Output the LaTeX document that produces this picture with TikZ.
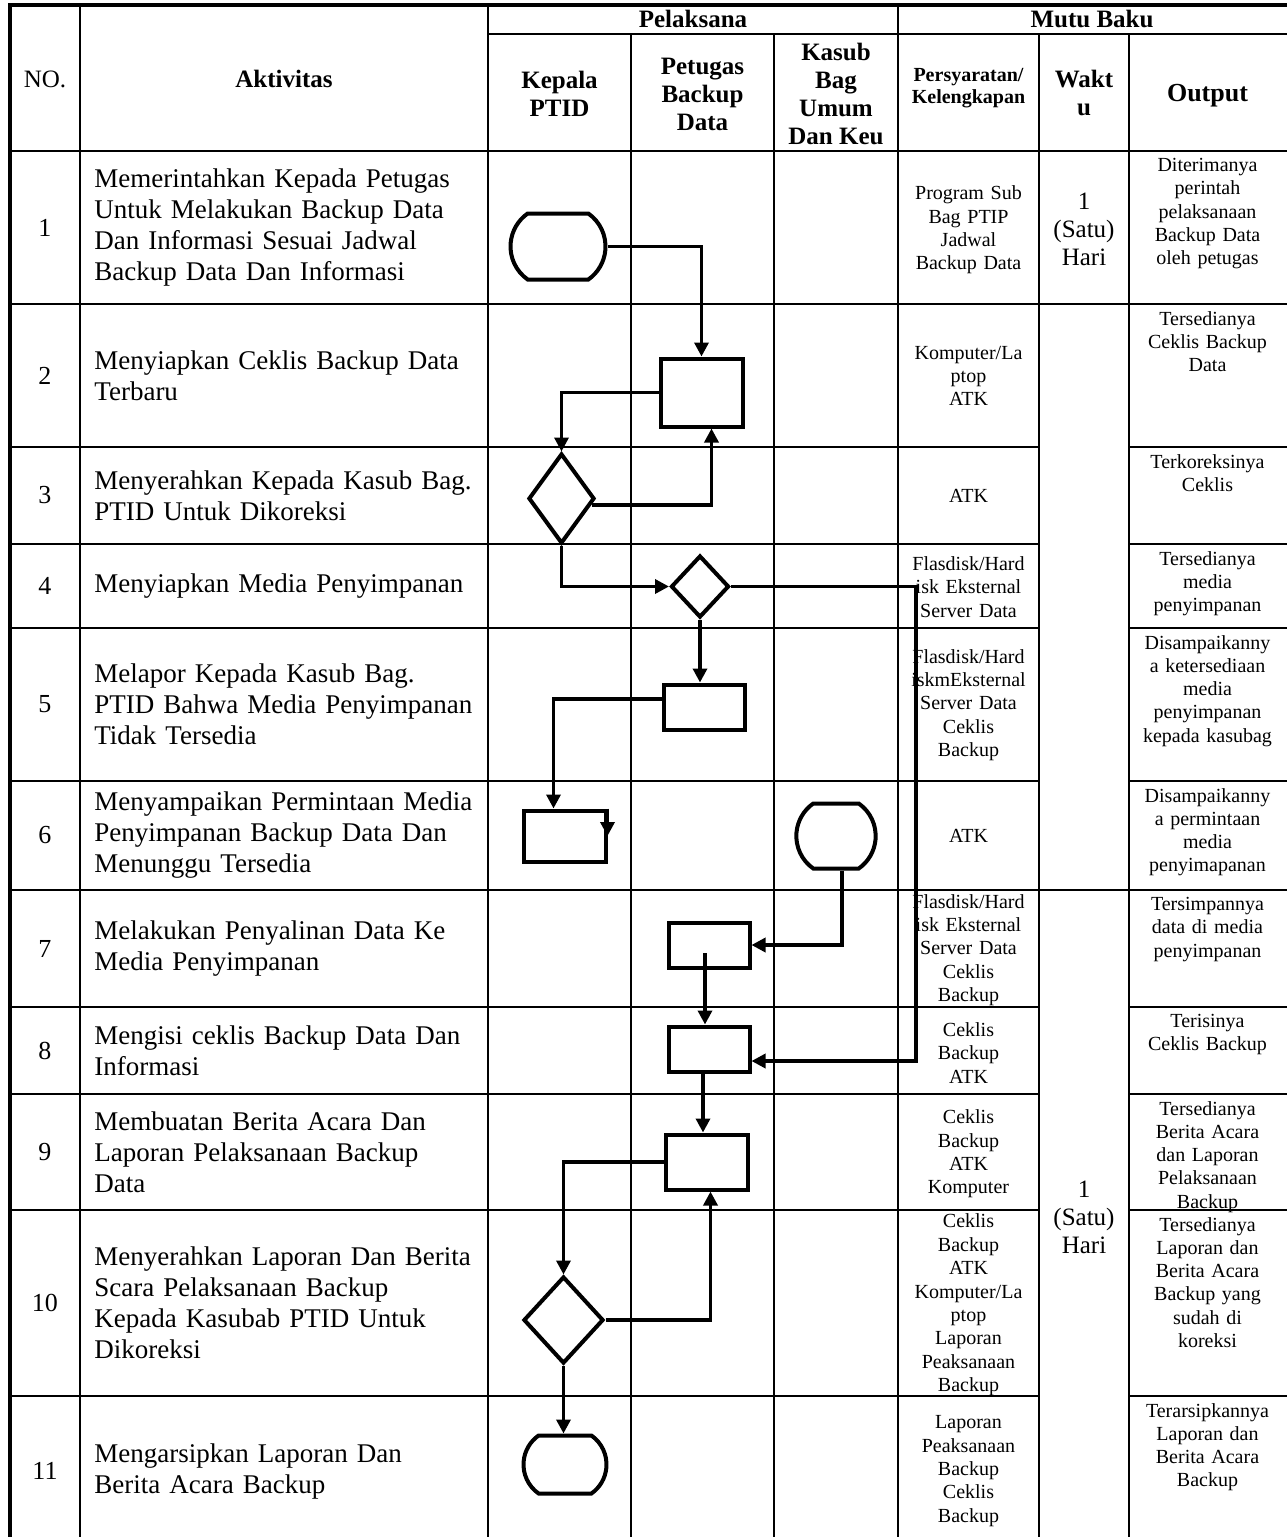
\documentclass[tikz,border=0pt]{standalone}
\usepackage{fontspec}
\setmainfont{Liberation Serif}
\usepackage{tikz}
\usetikzlibrary{arrows.meta,positioning,calc,shapes.geometric,shapes.misc}
\tikzset{
  tabline/.style={draw=black,line width=1.2pt},
  tabedge/.style={draw=black,line width=1.6pt},
  headtext/.style={
    inner sep=0pt,align=center,
    font=\fontsize{12.5}{14}\selectfont\bfseries
  },
  numtext/.style={inner sep=0pt,font=\fontsize{13}{15}\selectfont},
  akttext/.style={
    anchor=west,inner sep=0pt,text width=240pt,align=left,
    font=\fontsize{13.5}{15.5}\selectfont
  },
  syarattext/.style={
    inner sep=0pt,text width=70pt,align=center,
    font=\fontsize{10}{11.7}\selectfont
  },
  outtext/.style={
    anchor=north,inner sep=0pt,text width=78pt,align=center,
    font=\fontsize{10}{11.6}\selectfont
  },
  waktutext/.style={inner sep=0pt,align=center,font=\fontsize{12.5}{14}\selectfont},
  startbox/.style={
    rounded rectangle,rounded rectangle arc length=110,
    draw=black,fill=white,line width=2pt,inner sep=0pt
  },
  procbox/.style={draw=black,fill=white,line width=2pt,inner sep=0pt},
  decbox/.style={diamond,draw=black,fill=white,line width=2pt,inner sep=0pt},
  arrow/.style={-{Triangle[length=7pt,width=7pt]},draw=black,line width=1.7pt}
}
\begin{document}
\begin{tikzpicture}[x=0.5pt,y=-0.5pt]
\useasboundingbox (0,0) rectangle (1286,1537);

% table
\draw[tabedge] (10,1546) -- (10,5) -- (1292,5);
\foreach \x in {80,488,898} \draw[tabline] (\x,5) -- (\x,1546);
\foreach \x in {631,774,1039,1129} \draw[tabline] (\x,34) -- (\x,1546);
\draw[tabline] (488,34) -- (1292,34);
\draw[tabline] (10,151) -- (1292,151);
\foreach \y in {304,447,544,628,781,890,1007,1094,1210,1396} {
  \draw[tabline] (10,\y) -- (1039,\y);
  \draw[tabline] (1129,\y) -- (1292,\y);
}
\foreach \y in {304,890} \draw[tabline] (1039,\y) -- (1129,\y);

% header
\node[headtext,font=\fontsize{12.5}{14}\selectfont] (hno) at (45,79) {NO.};
\node[headtext] (hakt) at (284,79) {Aktivitas};
\node[headtext] (hpel) at (693,19) {Pelaksana};
\node[headtext] (hmutu) at (1092,19) {Mutu Baku};
\node[headtext] (hkep) at (559.5,94) {Kepala\\PTID};
\node[headtext] (hpet) at (702.5,94) {Petugas\\Backup\\Data};
\node[headtext] (hkas) at (836,94) {Kasub\\Bag\\Umum\\Dan Keu};
\node[headtext,font=\fontsize{10}{11}\selectfont\bfseries] (hsyarat) at (968.5,88) {Persyaratan/\\Kelengkapan};
\node[headtext] (hwaktu) at (1084,93) {Wakt\\u};
\node[headtext,font=\fontsize{13}{15}\selectfont\bfseries] (hout) at (1207.5,96) {Output};

\foreach \n/\y in {1/227.5,2/375.5,3/495.5,4/586,5/704.5,6/835.5,7/948.5,8/1050.5,9/1152,10/1303,11/1471}
  \node[numtext] (no\n) at (45,\y) {\n};

% aktivitas
\node[akttext] (akt1) at (94,227.5) {Memerintahkan Kepada Petugas\\Untuk Melakukan Backup Data\\Dan Informasi Sesuai Jadwal\\Backup Data Dan Informasi};
\node[akttext] (akt2) at (94,375.5) {Menyiapkan Ceklis Backup Data\\Terbaru};
\node[akttext] (akt3) at (94,495.5) {Menyerahkan Kepada Kasub Bag.\\PTID Untuk Dikoreksi};
\node[akttext] (akt4) at (94,586) {Menyiapkan Media Penyimpanan};
\node[akttext] (akt5) at (94,704.5) {Melapor Kepada Kasub Bag.\\PTID Bahwa Media Penyimpanan\\Tidak Tersedia};
\node[akttext] (akt6) at (94,835.5) {Menyampaikan Permintaan Media\\Penyimpanan Backup Data Dan\\Menunggu Tersedia};
\node[akttext] (akt7) at (94,948.5) {Melakukan Penyalinan Data Ke\\Media Penyimpanan};
\node[akttext] (akt8) at (94,1050.5) {Mengisi ceklis Backup Data Dan\\Informasi};
\node[akttext] (akt9) at (94,1152) {Membuatan Berita Acara Dan\\Laporan Pelaksanaan Backup\\Data};
\node[akttext] (akt10) at (94,1303) {Menyerahkan Laporan Dan Berita\\Scara Pelaksanaan Backup\\Kepada Kasubab PTID Untuk\\Dikoreksi};
\node[akttext] (akt11) at (94,1471) {Mengarsipkan Laporan Dan\\Berita Acara Backup};

% persyaratan
\node[syarattext] (syarat1) at (968.5,230) {Program Sub\\Bag PTIP\\Jadwal\\Backup Data};
\node[syarattext] (syarat2) at (968.5,376) {Komputer/La\\ptop\\ATK};
\node[syarattext] (syarat3) at (968.5,496) {ATK};
\node[syarattext] (syarat4) at (968.5,587) {Flasdisk/Hard\\isk Eksternal\\Server Data};
\node[syarattext] (syarat5) at (968.5,705) {Flasdisk/Hard\\iskmEksternal\\Server Data\\Ceklis\\Backup};
\node[syarattext] (syarat6) at (968.5,836) {ATK};
\node[syarattext] (syarat7) at (968.5,950) {Flasdisk/Hard\\isk Eksternal\\Server Data\\Ceklis\\Backup};
\node[syarattext] (syarat8) at (968.5,1053) {Ceklis\\Backup\\ATK};
\node[syarattext] (syarat9) at (968.5,1154) {Ceklis\\Backup\\ATK\\Komputer};
\node[syarattext] (syarat10) at (968.5,1305) {Ceklis\\Backup\\ATK\\Komputer/La\\ptop\\Laporan\\Peaksanaan\\Backup};
\node[syarattext] (syarat11) at (968.5,1471) {Laporan\\Peaksanaan\\Backup\\Ceklis\\Backup};

% waktu
\node[waktutext] (waktu1) at (1084,229) {1\\(Satu)\\Hari};
\node[waktutext] (waktu2) at (1084,1217) {1\\(Satu)\\Hari};

% output
\node[outtext] (out1) at (1207.5,158) {Diterimanya\\perintah\\pelaksanaan\\Backup Data\\oleh petugas};
\node[outtext] (out2) at (1207.5,311) {Tersedianya\\Ceklis Backup\\Data};
\node[outtext] (out3) at (1207.5,454) {Terkoreksinya\\Ceklis};
\node[outtext] (out4) at (1207.5,551) {Tersedianya\\media\\penyimpanan};
\node[outtext] (out5) at (1207.5,635) {Disampaikanny\\a ketersediaan\\media\\penyimpanan\\kepada kasubag};
\node[outtext] (out6) at (1207.5,788) {Disampaikanny\\a permintaan\\media\\penyimapanan};
\node[outtext] (out7) at (1207.5,897) {Tersimpannya\\data di media\\penyimpanan};
\node[outtext] (out8) at (1207.5,1014) {Terisinya\\Ceklis Backup};
\node[outtext] (out9) at (1207.5,1101) {Tersedianya\\Berita Acara\\dan Laporan\\Pelaksanaan\\Backup};
\node[outtext] (out10) at (1207.5,1217) {Tersedianya\\Laporan dan\\Berita Acara\\Backup yang\\sudah di\\koreksi};
\node[outtext] (out11) at (1207.5,1403) {Terarsipkannya\\Laporan dan\\Berita Acara\\Backup};

% flow
\node[startbox,minimum width=47.5pt,minimum height=33pt] (t1) at (558,246.5) {};
\node[procbox,minimum width=41pt,minimum height=34pt] (p2) at (701.5,392.5) {};
\node[decbox,minimum width=33pt,minimum height=45pt] (d3) at (561.5,498.5) {};
\node[decbox,minimum width=29pt,minimum height=31pt] (d4) at (700,586.5) {};
\node[procbox,minimum width=40.5pt,minimum height=22.5pt] (p5) at (704,707) {};
\node[procbox,minimum width=41pt,minimum height=25.5pt] (k6) at (564.5,836) {};
\node[startbox,minimum width=38.5pt,minimum height=32.5pt] (s6) at (836,836) {};
\node[procbox,minimum width=40.5pt,minimum height=22.5pt] (p7) at (709,945) {};
\node[procbox,minimum width=40.5pt,minimum height=22.5pt] (p8) at (709,1049) {};
\node[procbox,minimum width=41pt,minimum height=27.5pt] (p9) at (706.5,1162) {};
\node[decbox,minimum width=40pt,minimum height=43.5pt] (d10) at (563.5,1320) {};
\node[startbox,minimum width=41.5pt,minimum height=29pt] (t11) at (565,1464.5) {};
\coordinate (bend4) at (916,586.5);

\draw[arrow] (t1.east) -| (p2.north);
\draw[arrow] (p2.west) -| (d3.north);
\draw[arrow] (d3.-12) -| ([xshift=5pt]p2.south);
\draw[arrow] (d3.south) |- (d4.west);
\draw[arrow] (d4.south) -- (d4.south |- p5.north);
\draw[arrow] ([yshift=4pt]p5.west) -| ([xshift=-5.5pt]k6.north);
\draw[arrow] (k6.north east) -- (k6.east);
\draw[arrow] ([xshift=3pt]s6.south) |- (p7.east);
\draw[arrow] ([shift={(-2pt,-4pt)}]p7.center) -- ([xshift=-2pt]p8.north);
\draw[arrow] (d4.east) -- (bend4) |- ([yshift=-6pt]p8.east);
\draw[arrow] ([xshift=-3pt]p8.south) -- ([xshift=-3pt]p8.south |- p9.north);
\draw[arrow] (p9.west) -| (d10.north);
\draw[arrow] (d10.east) -| ([xshift=2pt]p9.south);
\draw[arrow] (d10.south) -- (d10.south |- t11.north);
\end{tikzpicture}
\end{document}
